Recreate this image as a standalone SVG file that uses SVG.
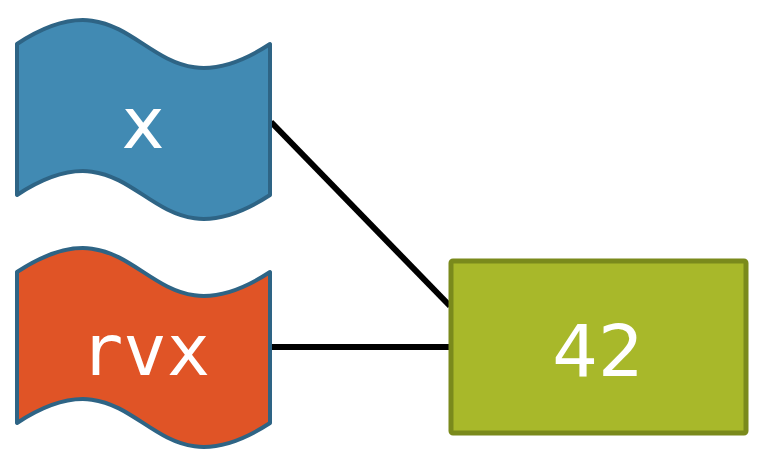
<svg xmlns="http://www.w3.org/2000/svg" width="768" height="466" viewBox="0 0 768 466">
<style>
.flag{stroke:#2e6485;stroke-width:4;stroke-linejoin:round}
.lbl{fill:#fff;font-size:72px;text-anchor:middle}
.conn{stroke:#000;stroke-width:6;fill:none}
</style>
<rect width="768" height="466" fill="#fff"/>
<g id="connectors">
<line class="conn" x1="271" y1="122" x2="450" y2="306"/>
<line class="conn" x1="270" y1="347" x2="451" y2="347"/>
</g>
<g id="node-x">
<path class="flag" fill="#418ab3" d="M17,44 C143,-39 143,127 270,44 L270,195 C143,278 143,112 17,195 Z"/>
<text class="lbl" x="143" y="148" font-family="DejaVu Sans, sans-serif">x</text>
</g>
<g id="node-rvx">
<path class="flag" fill="#e05426" d="M17,272 C143,189 143,355 270,272 L270,423 C143,506 143,340 17,423 Z"/>
<text class="lbl" x="145" y="375" font-family="DejaVu Sans Mono, monospace">rvx</text>
</g>
<g id="node-42">
<rect x="451" y="261" width="295" height="172" fill="#a8b82a" stroke="#7a8a1c" stroke-width="5" rx="2"/>
<text class="lbl" x="598" y="376" font-family="DejaVu Sans, sans-serif">42</text>
</g>
</svg>
